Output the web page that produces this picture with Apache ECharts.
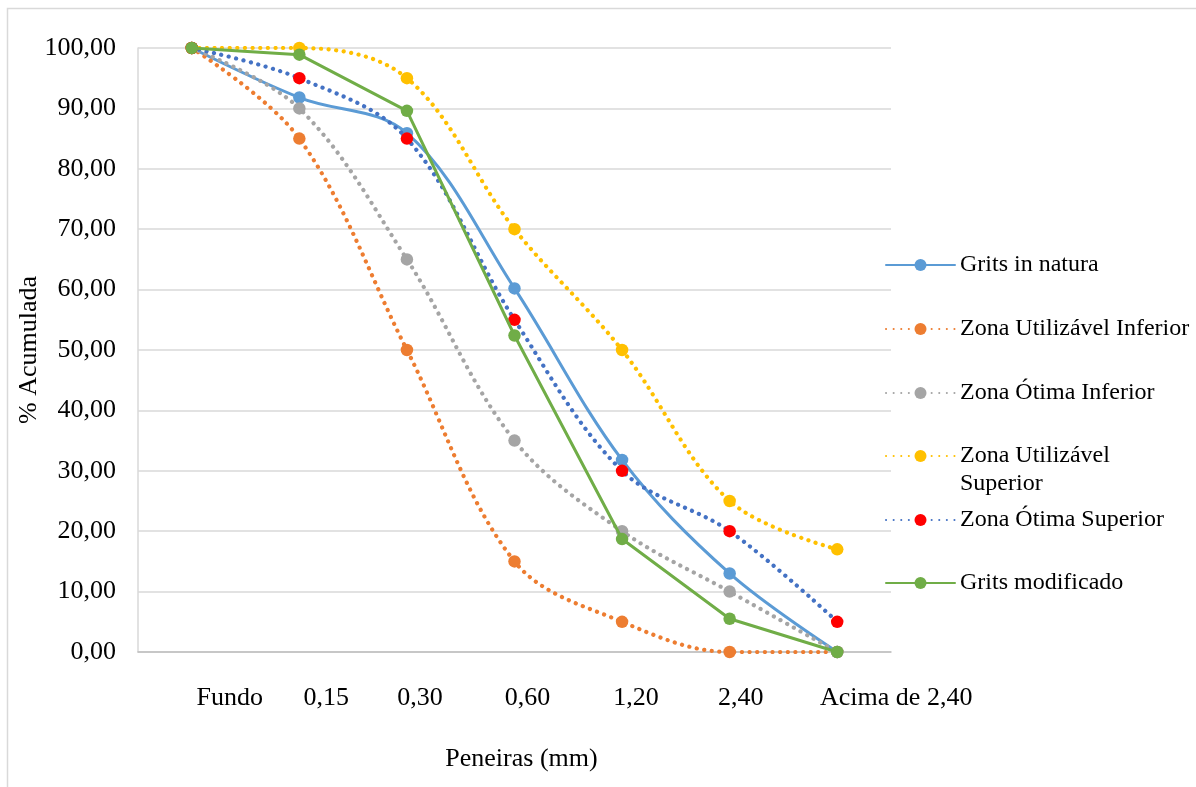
<!DOCTYPE html>
<html>
<head>
<meta charset="utf-8">
<script src="https://cdn.jsdelivr.net/npm/echarts@6/dist/echarts.min.js"></script>
<style>
html,body{margin:0;padding:0;background:#fff;}
#chart{width:1196px;height:787px;}
</style>
</head>
<body>
<div id="chart"></div>
<script>
// ---- data ----
var categories = ['Fundo', '0,15', '0,30', '0,60', '1,20', '2,40', 'Acima de 2,40'];
var gritsInNatura = [100, 91.8, 85.9, 60.2, 31.8, 13.0, 0];
var zonaUtilInferior = [100, 85, 50, 15, 5, 0, 0];
var zonaOtimaInferior = [100, 90, 65, 35, 20, 10, 0];
var zonaUtilSuperior = [100, 100, 95, 70, 50, 25, 17];
var zonaOtimaSuperior = [100, 95, 85, 55, 30, 20, 5];
var gritsModificado = [100, 98.9, 89.6, 52.4, 18.7, 5.5, 0];
var seriesNames = ['Grits in natura', 'Zona Utilizável Inferior', 'Zona Ótima Inferior',
                   'Zona Utilizável\nSuperior', 'Zona Ótima Superior', 'Grits modificado'];

// ---- style ----
var FONT = "'Liberation Serif', 'Times New Roman', serif";
var labelShift = [38, 27, 13, 13, 14, 11, 59]; // horizontal offset of category labels (px)
var dotted = [0.1, 7.5];

var rich = {};
labelShift.forEach(function (s, i) {
  rich['s' + i] = { padding: [0, 0, 0, 2 * s], fontSize: 26, fontFamily: FONT, color: '#000' };
});

function mkSeries(name, data, color, lineColor, type, smooth, z) {
  return {
    name: name,
    type: 'line',
    data: data,
    smooth: smooth,
    symbol: 'circle',
    symbolSize: 12.5,
    z: z,
    itemStyle: { color: color, borderWidth: 0 },
    lineStyle: { color: lineColor, width: type === 'solid' ? 3 : 4.2, type: type, cap: 'round' },
    emphasis: { disabled: true },
    animation: false
  };
}

var chart = echarts.init(document.getElementById('chart'), null, { renderer: 'canvas' });
var legendBase = {
  orient: 'vertical',
  left: 885,
  padding: 0,
  itemWidth: 69,
  itemHeight: 15,
  selectedMode: false,
  textStyle: { fontSize: 24, fontFamily: FONT, color: '#000', lineHeight: 24 }
};
chart.setOption({
  backgroundColor: '#fff',
  animation: false,
  graphic: [{
    type: 'rect', silent: true,
    shape: { x: 7.5, y: 8.5, width: 1300, height: 900 },
    style: { fill: 'none', stroke: '#D9D9D9', lineWidth: 1.5 }
  }],
  grid: { left: 138, right: 305, top: 48, bottom: 135 },
  legend: [
    Object.assign({}, legendBase, { top: 253, itemGap: 40, data: [seriesNames[0], seriesNames[1], seriesNames[2]] }),
    Object.assign({}, legendBase, {
      top: 414,
      formatter: function (n) { return '\n' + n; },
      textStyle: { fontSize: 24, fontFamily: FONT, color: '#000', lineHeight: 28 },
      data: [seriesNames[3]]
    }),
    Object.assign({}, legendBase, { top: 508, itemGap: 39, data: [seriesNames[4], seriesNames[5]] })
  ],
  xAxis: {
    type: 'category',
    data: categories,
    boundaryGap: true,
    name: 'Peneiras (mm)',
    nameLocation: 'middle',
    nameGap: 94,
    nameMoveOverlap: false,
    nameTextStyle: { fontSize: 26, fontFamily: FONT, color: '#000', padding: [0, 0, 0, 14] },
    axisLine: { show: true, lineStyle: { color: '#BFBFBF', width: 1.5 } },
    axisTick: { show: false },
    axisLabel: {
      margin: 33,
      interval: 0,
      formatter: function (v, i) { return '{s' + i + '|' + v + '}'; },
      rich: rich
    },
    splitLine: { show: false }
  },
  yAxis: {
    type: 'value',
    min: 0,
    max: 100,
    interval: 10,
    name: '% Acumulada',
    nameLocation: 'middle',
    nameGap: 96,
    nameMoveOverlap: false,
    nameTextStyle: { fontSize: 26, fontFamily: FONT, color: '#000' },
    axisLine: { show: true, lineStyle: { color: '#D9D9D9', width: 1.5 } },
    axisTick: { show: false },
    axisLabel: {
      margin: 22,
      fontSize: 26,
      fontFamily: FONT,
      color: '#000',
      formatter: function (v) { return v.toFixed(2).replace('.', ','); }
    },
    splitLine: { show: true, lineStyle: { color: '#D9D9D9', width: 1.5 } }
  },
  series: [
    mkSeries(seriesNames[0], gritsInNatura, '#5B9BD5', '#5B9BD5', 'solid', 0.35, 2),
    mkSeries(seriesNames[1], zonaUtilInferior, '#ED7D31', '#ED7D31', dotted, 0.35, 3),
    mkSeries(seriesNames[2], zonaOtimaInferior, '#A5A5A5', '#A5A5A5', dotted, 0.35, 4),
    mkSeries(seriesNames[3], zonaUtilSuperior, '#FFC000', '#FFC000', dotted, 0.35, 5),
    mkSeries(seriesNames[4], zonaOtimaSuperior, '#FF0000', '#4472C4', dotted, 0.35, 6),
    mkSeries(seriesNames[5], gritsModificado, '#70AD47', '#70AD47', 'solid', false, 7)
  ]
});
</script>
</body>
</html>
